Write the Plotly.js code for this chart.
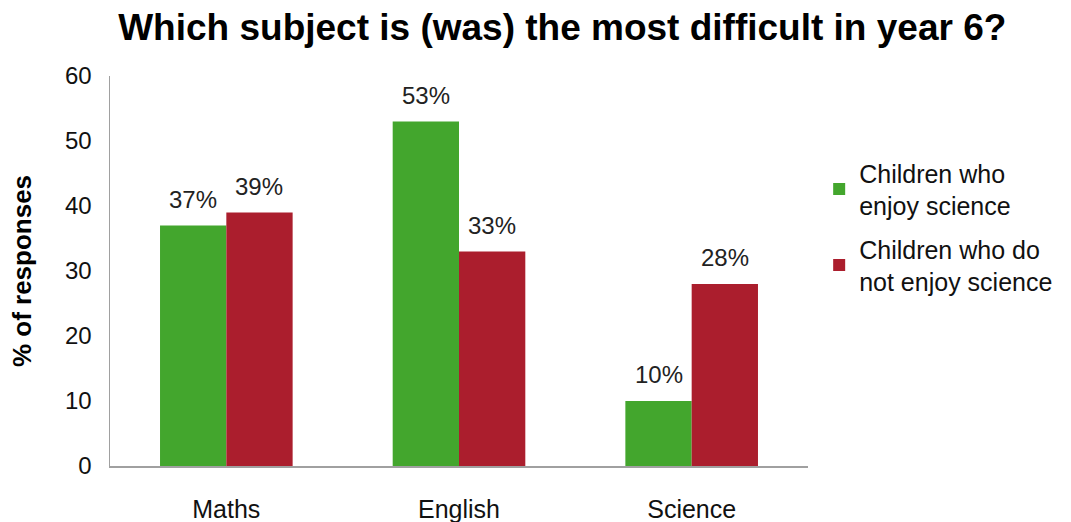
<!DOCTYPE html>
<html><head><meta charset="utf-8">
<script src="https://cdn.plot.ly/plotly-3.0.1.min.js"></script>
<style>body{margin:0;background:#fff}#chart{width:1071px;height:522px}</style>
</head><body><div id="chart"></div>
<script>
const categories = ["Maths", "English", "Science"];
const enjoyValues = [37, 53, 10];
const notEnjoyValues = [39, 33, 28];
const seriesNames = ["Children who<br>enjoy science", "Children who do<br>not enjoy science"];
const yTicks = [0, 10, 20, 30, 40, 50, 60];

const font = "Liberation Sans, Arial, sans-serif";
const margin = {l: 110, r: 263, t: 76, b: 56};
const W = 1071, H = 522, bargap = 0.43;
const catPx = (W - margin.l - margin.r) / categories.length;
const barPx = catPx * (1 - bargap) / 2;

const traces = [
  {type: "bar", x: categories, y: enjoyValues, name: seriesNames[0], legendgroup: "a",
   marker: {color: "#43A62D"}},
  {type: "bar", x: categories, y: notEnjoyValues, name: seriesNames[1], legendgroup: "b",
   marker: {color: "#AB1E2D"}}
];
const annotations = [];
[enjoyValues, notEnjoyValues].forEach((vals, s) => {
  vals.forEach((v, i) => {
    annotations.push({x: categories[i], y: v, xref: "x", yref: "y", text: v + "%",
      showarrow: false, xanchor: "center", yanchor: "bottom",
      xshift: (s === 0 ? -1 : 1) * barPx / 2, yshift: 11,
      font: {size: 24, color: "#222", family: font}});
  });
});
const layout = {
  width: W, height: H, margin: margin,
  paper_bgcolor: "#fff", plot_bgcolor: "#fff",
  font: {family: font, color: "#111"},
  title: {text: "<b>Which subject is (was) the most difficult in year 6?</b>",
    font: {size: 37, color: "#000"}, x: 0.525, xanchor: "center", y: 0.948, yanchor: "middle"},
  barmode: "group", bargap: bargap, bargroupgap: 0,
  annotations: annotations,
  xaxis: {showline: true, linecolor: "#a0a0a0", linewidth: 1.5, showgrid: false,
    ticks: "", ticklabelstandoff: 20, tickfont: {size: 25, color: "#111"}, fixedrange: true},
  yaxis: {range: [0, 60], tickvals: yTicks, showline: true, linecolor: "#a0a0a0", linewidth: 1.5,
    showgrid: false, zeroline: false, ticks: "", ticklabelstandoff: 12,
    tickfont: {size: 24, color: "#111"},
    title: {text: "<b>% of responses</b>", font: {size: 26, color: "#000"}, standoff: 26}},
  legend: {x: 1.016, y: 0.81, xanchor: "left", yanchor: "top", font: {size: 25, color: "#111"},
    tracegroupgap: 8, itemwidth: 30, traceorder: "grouped"},
  showlegend: true
};
Plotly.newPlot("chart", traces, layout, {displayModeBar: false, staticPlot: true});
</script></body></html>
